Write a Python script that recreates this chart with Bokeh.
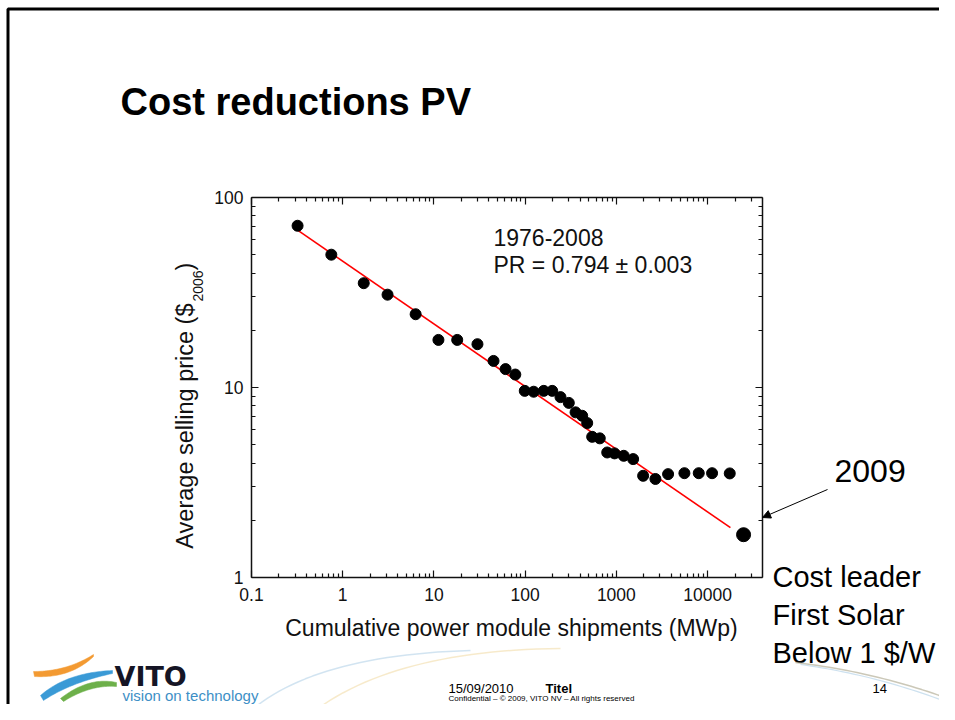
import math
from bokeh.plotting import figure
from bokeh.models import (LogAxis, FixedTicker, Label, Arrow, NormalHead,
                          PolyAnnotation, CustomJSTickFormatter)
from bokeh.embed import file_html
from bokeh.resources import INLINE

# ---------------- data ----------------
shipments_mwp = [0.32, 0.75, 1.7, 3.1, 6.3, 11.2, 18, 30, 45, 61, 78, 99, 124,
                 160, 198, 244, 301, 357, 422, 479, 543, 658, 794, 955, 1205,
                 1527, 1965, 2680, 3690, 5570, 8000, 11200, 17500]
price_usd2006 = [71, 50, 35.4, 30.8, 24.3, 17.8, 17.8, 16.9, 13.8, 12.5, 11.7,
                 9.6, 9.5, 9.6, 9.6, 8.9, 8.3, 7.4, 7.1, 6.5, 5.5, 5.4, 4.55,
                 4.5, 4.37, 4.2, 3.43, 3.3, 3.5, 3.54, 3.54, 3.54, 3.53]
point_2009_x = [24800]
point_2009_y = [1.68]
fit_x = [0.32, 17800]
fit_y = [67.3, 1.83]

x_tick_values = [0.1, 1, 10, 100, 1000, 10000]
x_tick_labels = ["0.1", "1", "10", "100", "1000", "10000"]
y_tick_values = [1, 10, 100]
y_tick_labels = ["1", "10", "100"]

X_RANGE = (0.1, 40000)   # plot box extent
Y_RANGE = (1, 100)

# ---------------- geometry (pixels) ----------------
W, H = 939, 704
FL, FR, FT, FB = 251, 762, 197, 577   # plot box in canvas pixels


def dx(px):
    lo, hi = math.log10(X_RANGE[0]), math.log10(X_RANGE[1])
    return 10 ** (lo + (px - FL) / (FR - FL) * (hi - lo))


def dy(py):
    lo, hi = math.log10(Y_RANGE[0]), math.log10(Y_RANGE[1])
    return 10 ** (lo + (FB - py) / (FB - FT) * (hi - lo))


FONT = "Liberation Sans"

# the frame covers the whole slide; the plot box is drawn by bounded axes
p = figure(width=W, height=H, x_axis_type="log", y_axis_type="log",
           x_range=(dx(0), dx(W)), y_range=(dy(H), dy(0)),
           output_backend="svg", toolbar_location=None,
           min_border_left=0, min_border_right=0,
           min_border_top=0, min_border_bottom=0)
p.xgrid.visible = False
p.ygrid.visible = False
p.outline_line_color = None
p.background_fill_color = "white"
p.border_fill_color = "white"

x_minor = [k * 10 ** e for e in range(-1, 5) for k in range(2, 10) if k * 10 ** e < 40000]
y_minor = [k * 10 ** e for e in range(0, 2) for k in range(2, 10)]

fmt_code = """
for (let i = 0; i < vals.length; i++) {
  if (Math.abs(Math.log10(tick) - Math.log10(vals[i])) < 1e-6) return labs[i];
}
return '';
"""


def style_axis(ax, ticks, minor, labels_vals, labels_txt, show, loc, bounds):
    ax.ticker = FixedTicker(ticks=ticks, minor_ticks=minor)
    if show:
        ax.formatter = CustomJSTickFormatter(args=dict(vals=labels_vals, labs=labels_txt), code=fmt_code)
    else:
        ax.formatter = CustomJSTickFormatter(code="return '';")
    ax.fixed_location = loc
    ax.bounds = bounds
    ax.axis_line_color = "#111111"
    ax.axis_line_width = 1.5
    ax.major_tick_in = 7
    ax.major_tick_out = 0
    ax.minor_tick_in = 4
    ax.minor_tick_out = 0
    ax.major_tick_line_color = "#111111"
    ax.minor_tick_line_color = "#111111"
    ax.major_tick_line_width = 1.2
    ax.minor_tick_line_width = 1.2
    ax.major_label_text_font = FONT
    ax.major_label_text_font_size = "17.5px"
    ax.major_label_text_color = "#111111"


style_axis(p.xaxis[0], x_tick_values, x_minor, x_tick_values, x_tick_labels, True, Y_RANGE[0], X_RANGE)
style_axis(p.yaxis[0], y_tick_values, y_minor, y_tick_values, y_tick_labels, True, X_RANGE[0], Y_RANGE)
p.xaxis[0].major_label_standoff = 10
p.yaxis[0].major_label_standoff = 8

top_ax = LogAxis()
right_ax = LogAxis()
style_axis(top_ax, x_tick_values, x_minor, x_tick_values, x_tick_labels, False, Y_RANGE[1], X_RANGE)
style_axis(right_ax, y_tick_values, y_minor, y_tick_values, y_tick_labels, False, X_RANGE[1], Y_RANGE)
p.add_layout(top_ax, "above")
p.add_layout(right_ax, "right")

# ---------------- marks ----------------
p.line(fit_x, fit_y, line_color="#ff0000", line_width=1.6)
p.scatter(shipments_mwp, price_usd2006, size=11, fill_color="black", line_color="black")
p.scatter(point_2009_x, point_2009_y, size=14, fill_color="black", line_color="black")


# ---------------- texts ----------------
# (px, py) is the text's baseline position; the label is anchored at its middle
def lab(px, py, text, size, bold=False, color="black", align="left", angle=0.0, font=FONT):
    s = float(size.replace("px", ""))
    if angle:
        ax_, ay_ = px - 0.35 * s, py
    else:
        ax_, ay_ = px, py - 0.35 * s
    p.add_layout(Label(x=dx(ax_), y=dy(ay_), text=text, text_font=font,
                       text_font_size=size, text_font_style="bold" if bold else "normal",
                       text_color=color, text_align=align, text_baseline="middle",
                       angle=angle))


lab(120, 115, "Cost reductions PV", "38px", bold=True)
lab(493, 245, "1976-2008", "23px", color="#111111")
lab(493, 273, "PR = 0.794 \u00b1 0.003", "23px", color="#111111")

# axis titles
lab(511, 636, "Cumulative power module shipments (MWp)", "23px", color="#111111", align="center")
lab(193, 303, "Average selling price ($", "23.5px", color="#111111", align="right", angle=math.pi / 2)
lab(202, 301, "2006", "14px", color="#111111", align="left", angle=math.pi / 2)
lab(193, 270, ")", "23.5px", color="#111111", align="left", angle=math.pi / 2)

# annotation on the right
lab(834, 482, "2009", "32px")
lab(772, 587, "Cost leader", "29px")
lab(772, 625, "First Solar", "29px")
lab(772, 663, "Below 1 $/W", "29px")
p.add_layout(Arrow(x_start=dx(827), y_start=dy(489), x_end=dx(762), y_end=dy(517),
                   line_color="black", line_width=1,
                   end=NormalHead(size=8, fill_color="black", line_color="black", line_width=1)))

# footer
lab(448, 693, "15/09/2010", "13px")
lab(545, 693, "Titel", "13px", bold=True)
lab(872, 693, "14", "13px")
lab(448, 701, "Confidential \u2013 \u00a9 2009, VITO NV \u2013 All rights reserved", "8px")
lab(114, 685, "VITO", "27px", bold=True, color="#151525", font="DejaVu Sans")
lab(122, 700, "vision on technology", "15px", color="#3d8fc6")


# ---------------- decorations ----------------
def poly(pts, fill=None, line=None, alpha=1.0, lw=1.0):
    p.add_layout(PolyAnnotation(xs=[dx(a) for a, b in pts], ys=[dy(b) for a, b in pts],
                                fill_color=fill, fill_alpha=alpha if fill else 0,
                                line_color=line, line_alpha=alpha if line else 0,
                                line_width=lw))


def bez(p0, p1, p2, n=30):
    out = []
    for i in range(n + 1):
        t = i / n
        out.append(((1 - t) ** 2 * p0[0] + 2 * (1 - t) * t * p1[0] + t * t * p2[0],
                    (1 - t) ** 2 * p0[1] + 2 * (1 - t) * t * p1[1] + t * t * p2[1]))
    return out


def stroke(p0, p1, p2, color, alpha, lw):
    pts = bez(p0, p1, p2)
    poly(pts + pts[::-1], line=color, alpha=alpha, lw=lw)


def crescent(a0, a1, a2, b0, b1, b2, color):
    up = bez(a0, a1, a2)
    lo = bez(b0, b1, b2)
    poly(up + lo[::-1], fill=color, line=color, alpha=1.0, lw=0.5)


# slide border (top and left)
poly([(7.5, 760), (7.5, 8.5), (1000, 8.5), (1000, 760)], line="black", lw=3)

# faint swooshes in the footer
stroke((238, 722), (300, 655), (470, 650), "#9cc3e0", 0.45, 1.5)
stroke((300, 722), (380, 650), (560, 648), "#f0d9a0", 0.55, 1.5)
stroke((795, 662), (880, 672), (958, 702), "#b5b09a", 0.7, 1.5)
stroke((800, 664), (880, 675), (958, 706), "#9cc3e0", 0.5, 1.2)

# VITO logo swooshes
crescent((33, 671), (66, 671), (93, 654), (34, 676), (70, 678), (93, 656), "#f39a32")
crescent((40, 695), (66, 672), (112, 670), (43, 700), (70, 682), (112, 673), "#3a9ad6")
crescent((60, 698), (88, 676), (116, 682), (63, 701), (90, 684), (116, 686), "#6db04a")

open("out.html", "w").write(file_html(p, INLINE))
